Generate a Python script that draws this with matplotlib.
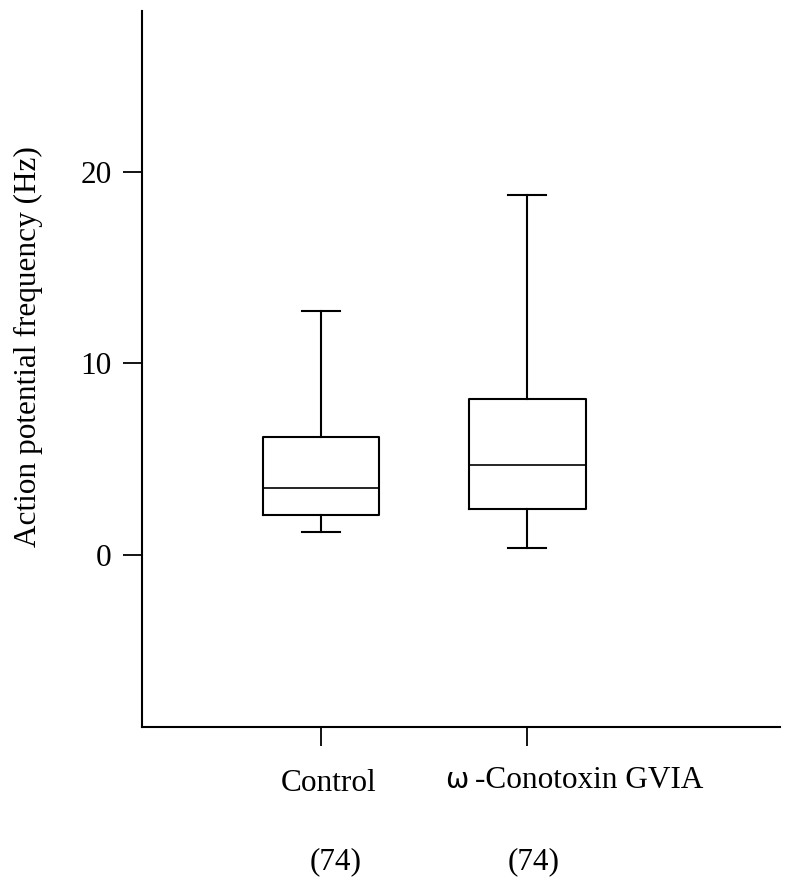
import matplotlib
matplotlib.use("Agg")
import matplotlib.pyplot as plt

# Action potential frequency (Hz), box-and-whisker summaries
groups = ["Control", "\u03c9 -Conotoxin GVIA"]
n_cells = [74, 74]
whisker_low = [1.16, 0.35]
q1 = [2.09, 2.37]
median = [3.50, 4.67]
q3 = [6.13, 8.15]
whisker_high = [12.70, 18.78]

yticks = [0, 10, 20]

W, H = 804, 889
DPI = 100
serif = ["Liberation Serif", "DejaVu Serif"]

fig = plt.figure(figsize=(W / DPI, H / DPI), dpi=DPI)
ax = fig.add_axes([142 / W, 1 - 727 / H, (780 - 142) / W, (727 - 11) / H])

positions = [1, 2]
stats = []
for i, name in enumerate(groups):
    stats.append(dict(label=name, whislo=whisker_low[i], q1=q1[i], med=median[i],
                      q3=q3[i], whishi=whisker_high[i], fliers=[]))

line = dict(color="black", linewidth=1.5)
ax.bxp(stats, positions=positions, widths=0.562, capwidths=0.184,
       showfliers=False, boxprops=line, whiskerprops=line, capprops=line,
       medianprops=dict(color="black", linewidth=1.2), manage_ticks=False)

ax.set_xlim(0.133, 3.223)
ax.set_ylim(-9.0, 28.39)

for s in ["top", "right"]:
    ax.spines[s].set_visible(False)
for s in ["left", "bottom"]:
    ax.spines[s].set_linewidth(1.5)

ax.set_yticks(yticks)
ax.set_yticklabels([str(v) for v in yticks], fontsize=22.5, family=serif)
ax.tick_params(axis="y", length=14, width=1.3, pad=8)
ax.set_xticks(positions)
ax.set_xticklabels(["", ""])
ax.tick_params(axis="x", length=14, width=1.3)

def fx(px):
    return px / W

def fy(py):
    return 1 - py / H

# Group names under the ticks
fig.text(fx(329), fy(791), groups[0], ha="center", va="baseline", fontsize=22.5, family=serif)
omega, rest = groups[1].split(" ", 1)
fig.text(fx(468), fy(788), omega, ha="right", va="baseline", fontsize=20,
         family=["DejaVu Sans"])
fig.text(fx(475), fy(788), rest, ha="left", va="baseline", fontsize=22.5, family=serif)

# Number of cells in each group
for cx, n in zip([336, 534], n_cells):
    fig.text(fx(cx), fy(869), f"({n})", ha="center", va="baseline", fontsize=22.5, family=serif)

fig.text(fx(28), fy(347), "Action potential frequency (Hz)", rotation=90,
         ha="center", va="center", fontsize=22.5, family=serif)

fig.savefig("out.png", dpi=DPI)
